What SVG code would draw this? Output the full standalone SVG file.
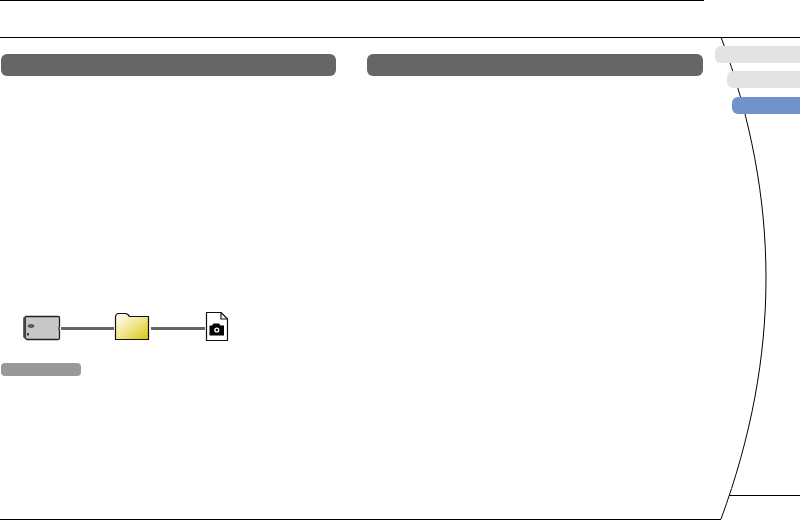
<svg xmlns="http://www.w3.org/2000/svg" width="800" height="520" viewBox="0 0 800 520">
<defs>
<style>
.rule{stroke:#000;stroke-width:1.2;fill:none}
.bar{fill:#666}
.tab{fill:#e3e3e3}
.link{stroke:#666;stroke-width:3;fill:none}
.ol{stroke:#111;stroke-width:1.2;stroke-linejoin:round}
</style>
<linearGradient id="fold" x1="0" y1="0" x2="1" y2="1"><stop offset="0" stop-color="#fff"/><stop offset="0.5" stop-color="#f1e690"/><stop offset="1" stop-color="#d8c70a"/></linearGradient>
</defs>
<rect width="800" height="520" fill="#fff"/>
<g id="frame">
<path class="rule" d="M0 0.500H704M0 37.500H800M0 519.500H721M729 495.500H800"/>
<path class="rule" style="stroke-width:1" d="M721 37C781 200 781 356 721 519"/>
</g>
<g id="header-left"><rect class="bar" x="1" y="54" width="335" height="22" rx="6"/></g>
<g id="header-right"><rect class="bar" x="367" y="54" width="336" height="22" rx="6"/></g>
<g id="tab-1"><rect class="tab" x="715" y="46" width="100" height="17" rx="6"/></g>
<g id="tab-2"><rect class="tab" x="727" y="71" width="90" height="17" rx="6"/></g>
<g id="tab-3"><rect x="732" y="97" width="90" height="17" rx="6" fill="#7093cb"/></g>
<g id="connectors">
<path class="link" d="M61 328.500H114M151 328.500H205"/>
</g>
<g id="node-card">
<path d="M26 316.500H58.500Q59.500 316.500 59.500 318V326L59 329L59.500 331V338Q59.500 339.500 58 339.500H27L24 337V318Z" fill="#c8c8c8" stroke="#222" stroke-width="1.300"/>
<path d="M25 317V338" stroke="#444" stroke-width="2.200"/>
<ellipse cx="31" cy="326" rx="3" ry="1.300" fill="#777" stroke="#222" stroke-width="0.800"/>
<path d="M28 335.500V333" stroke="#111" stroke-width="1.500"/>
</g>
<g id="node-folder">
<path class="ol" d="M115.500 339.500V317.500Q115.500 313.500 119 313.500H125Q128 313.500 129.500 316.500H148.500V339.500Z" fill="url(#fold)"/>
</g>
<g id="node-photo">
<path class="ol" d="M206.500 312.500H221L227.500 319V340.500H206.500Z" fill="#fff"/>
<path class="ol" d="M221 312.500V319H227.500" fill="none"/>
<path d="M209.500 325.500H212L213.500 323.500H219L220.500 325.500H224V335.500H209.500Z" fill="#000"/>
<circle cx="216.800" cy="330" r="2.600" fill="#fff"/>
<circle cx="216.800" cy="330" r="1.200" fill="#000"/>
</g>
<g id="label-bar"><rect x="1" y="363" width="80" height="13" rx="4" fill="#999"/></g>
</svg>
